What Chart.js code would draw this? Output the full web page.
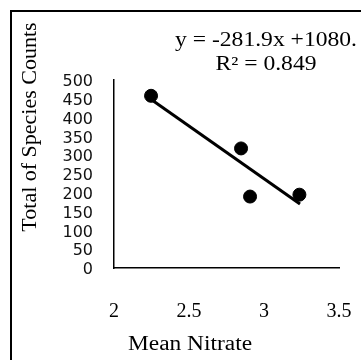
<!DOCTYPE html>
<html>
<head>
<meta charset="utf-8">
<script src="https://cdn.jsdelivr.net/npm/chart.js@4.4.1/dist/chart.umd.min.js"></script>
<style>
  html, body { margin: 0; padding: 0; background: #fff; }
  #wrap { position: relative; width: 361px; height: 360px; overflow: hidden; }
  #frame { position: absolute; left: 10px; top: 10px; width: 400px; height: 400px;
           border-left: 2px solid #000; border-top: 2px solid #000; }
  canvas { position: absolute; left: 0; top: 0; }
</style>
</head>
<body>
<div id="wrap">
  <div id="frame"></div>
  <canvas id="chart" width="361" height="360"></canvas>
</div>
<script>
// data
const nitrate = [2.247, 2.847, 2.907, 3.236];
const speciesCounts = [458, 318, 190, 195];
const trendX = [2.26, 3.24];
const trendY = [445, 170];
const xTicks = [2, 2.5, 3, 3.5];
const yTicks = [0, 50, 100, 150, 200, 250, 300, 350, 400, 450, 500];

const serif = "'Liberation Serif', 'Times New Roman', serif";

// teks agak melebar seperti gambar asli
function wideText(ctx, txt, x, y, sx) {
  ctx.save();
  ctx.translate(x, y);
  ctx.scale(sx, 1);
  ctx.fillText(txt, 0, 0);
  ctx.restore();
}

// judul sumbu dan persamaan digambar manual
const textPlugin = {
  id: "texts",
  afterDraw(chart) {
    const ctx = chart.ctx;
    ctx.save();
    ctx.fillStyle = "#000";
    ctx.textAlign = "center";
    ctx.textBaseline = "middle";
    ctx.font = "20px " + serif;
    wideText(ctx, "Mean Nitrate", 190, 345, 1.17);
    wideText(ctx, "y = -281.9x +1080.", 266, 41, 1.18);
    wideText(ctx, "R\u00B2 = 0.849", 266, 65, 1.18);
    ctx.translate(30, 127);
    ctx.rotate(-Math.PI / 2);
    ctx.font = "22px " + serif;
    ctx.fillText("Total of Species Counts", 0, 0);
    ctx.restore();
  }
};

new Chart(document.getElementById("chart"), {
  type: "scatter",
  data: {
    datasets: [
      {
        data: nitrate.map((x, i) => ({ x, y: speciesCounts[i] })),
        backgroundColor: "#000",
        borderColor: "#000",
        pointRadius: 6.5
      },
      {
        type: "line",
        data: trendX.map((x, i) => ({ x, y: trendY[i] })),
        borderColor: "#000",
        borderWidth: 3,
        pointRadius: 0,
        fill: false
      }
    ]
  },
  options: {
    responsive: false,
    animation: false,
    layout: { padding: { left: 0, right: 22, top: 80, bottom: 0 } },
    plugins: { legend: { display: false }, tooltip: { enabled: false } },
    scales: {
      x: {
        type: "linear",
        min: 2, max: 3.5,
        afterBuildTicks: s => { s.ticks = xTicks.map(v => ({ value: v })); },
        afterFit: s => { s.height = 92; s.paddingLeft = 0; s.paddingRight = 0; },
        grid: { display: false, drawTicks: false },
        border: { display: true, color: "#000", width: 1.5 },
        ticks: {
          padding: 32, color: "#000", maxRotation: 0,
          font: { family: serif, size: 20 },
          callback: v => String(v)
        }
      },
      y: {
        min: 0, max: 500,
        afterBuildTicks: s => { s.ticks = yTicks.map(v => ({ value: v })); },
        afterFit: s => { s.width = 114; s.paddingTop = 0; s.paddingBottom = 0; },
        grid: { display: false, drawTicks: false },
        border: { display: true, color: "#000", width: 1.5 },
        ticks: {
          padding: 21, autoSkip: false, labelOffset: 2, color: "#111",
          font: { family: "'DejaVu Sans', sans-serif", size: 16 }
        }
      }
    }
  },
  plugins: [textPlugin]
});
</script>
</body>
</html>
